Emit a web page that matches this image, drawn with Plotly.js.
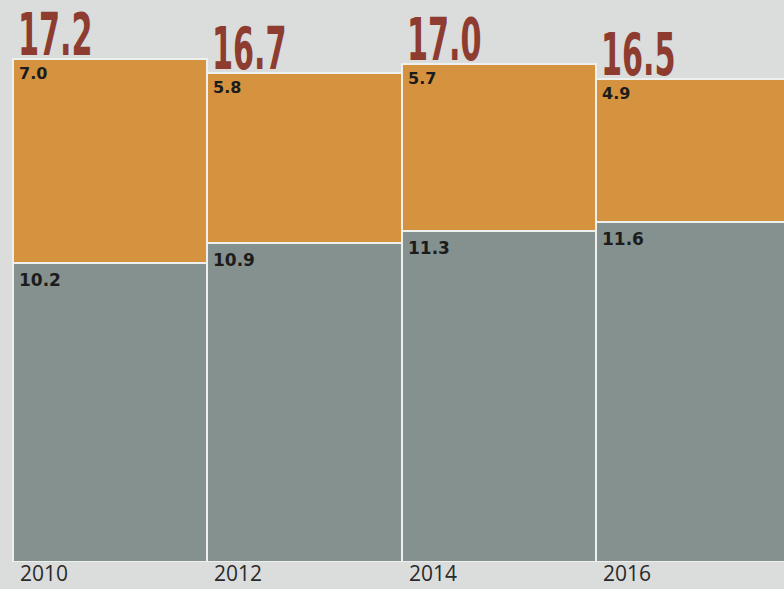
<!DOCTYPE html>
<html>
<head>
<meta charset="utf-8">
<script src="https://cdn.plot.ly/plotly-3.0.1.min.js"></script>
<style>
html,body{margin:0;padding:0;background:#dadddc;}
#chart{width:784px;height:589px;}
</style>
</head>
<body>
<div id="chart"></div>
<script>
const years = ['2010', '2012', '2014', '2016'];
const lowerValues = [10.2, 10.9, 11.3, 11.6];
const upperValues = [7.0, 5.8, 5.7, 4.9];
const totalValues = [17.2, 16.7, 17.0, 16.5];

const xs = years.map((_, i) => i);

const traces = [
  {
    type: 'bar', x: xs, y: lowerValues, width: 1,
    marker: {color: '#85918e', line: {color: '#eef0ee', width: 2}},
    hoverinfo: 'skip'
  },
  {
    type: 'bar', x: xs, y: upperValues, width: 1,
    marker: {color: '#d5923f', line: {color: '#eef0ee', width: 2}},
    hoverinfo: 'skip'
  }
];

const annotations = [];
years.forEach((yr, i) => {
  annotations.push({
    x: i - 0.5, y: totalValues[i], xref: 'x', yref: 'y',
    text: totalValues[i].toFixed(1), showarrow: false,
    xanchor: 'left', yanchor: 'bottom', xshift: 3, yshift: -12,
    font: {family: 'DejaVu Sans Condensed, DejaVu Sans, sans-serif', size: 58, color: '#8e3b30', weight: 'bold'}
  });
  annotations.push({
    x: i - 0.5, y: totalValues[i], xref: 'x', yref: 'y',
    text: upperValues[i].toFixed(1), showarrow: false,
    xanchor: 'left', yanchor: 'top', xshift: 4, yshift: -3,
    font: {family: 'DejaVu Sans, sans-serif', size: 16, color: '#1c1c1c', weight: 'bold'}
  });
  annotations.push({
    x: i - 0.5, y: lowerValues[i], xref: 'x', yref: 'y',
    text: lowerValues[i].toFixed(1), showarrow: false,
    xanchor: 'left', yanchor: 'top', xshift: 4, yshift: -5,
    font: {family: 'DejaVu Sans, sans-serif', size: 17, color: '#1c1c1c', weight: 'bold'}
  });
  annotations.push({
    x: i - 0.5, y: 0, xref: 'x', yref: 'y',
    text: yr, showarrow: false,
    xanchor: 'left', yanchor: 'bottom', xshift: 5, yshift: -27,
    font: {family: 'Open Sans, sans-serif', size: 21, color: '#2a2a2a'}
  });
});

const layout = {
  width: 784, height: 589,
  margin: {l: 0, r: 0, t: 0, b: 27, pad: 0},
  paper_bgcolor: '#dadddc',
  plot_bgcolor: '#dadddc',
  barmode: 'stack',
  bargap: 0,
  showlegend: false,
  xaxis: {range: [-0.566, 3.465], showgrid: false, zeroline: false, showticklabels: false, ticks: '', fixedrange: true},
  yaxis: {range: [0, 19.2], showgrid: false, zeroline: false, showticklabels: false, ticks: '', fixedrange: true},
  annotations: annotations
};

Plotly.newPlot('chart', traces, layout, {displayModeBar: false, staticPlot: true}).then(gd => {
  // condense the large total labels horizontally to mimic the narrow display face
  gd.querySelectorAll('g.annotation').forEach(g => {
    const idx = Number(g.getAttribute('data-index'));
    if (idx % 4 !== 0) return;
    const t = g.querySelector('text.annotation-text');
    if (!t) return;
    const bb = t.getBBox();
    const x0 = bb.x;
    t.setAttribute('transform', 'translate(' + x0 + ',0) scale(0.58,1) translate(' + (-x0) + ',0)');
  });
});
</script>
</body>
</html>
